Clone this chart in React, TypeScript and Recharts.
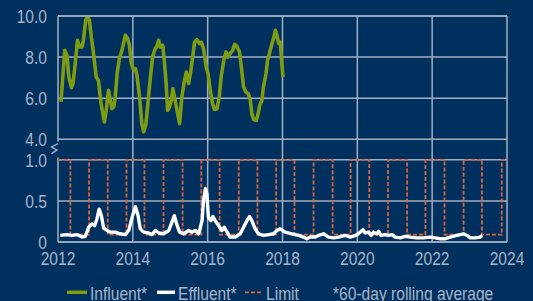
import React from 'react';
import { LineChart, Line, XAxis, YAxis, CartesianGrid, ReferenceDot } from 'recharts';

// ---------- data ----------
const xTicks = [2012, 2014, 2016, 2018, 2020, 2022, 2024];
const influentTicks = [4, 5, 6, 7, 8, 9, 10];
const effluentTicks = [0, 0.25, 0.5, 0.75, 1.0];

const influentYears = [
  2012.08, 2012.18, 2012.24, 2012.29, 2012.36, 2012.40, 2012.46, 2012.52, 2012.58, 2012.64,
  2012.68, 2012.74, 2012.79, 2012.84, 2012.89, 2012.95, 2013.02, 2013.08, 2013.15, 2013.24,
  2013.29, 2013.35, 2013.40, 2013.44, 2013.49, 2013.53, 2013.58, 2013.64, 2013.71, 2013.75,
  2013.80, 2013.86, 2013.91, 2013.96, 2014.02, 2014.07, 2014.11, 2014.18, 2014.24, 2014.29,
  2014.35, 2014.41, 2014.47, 2014.53, 2014.58, 2014.65, 2014.69, 2014.73, 2014.80, 2014.84,
  2014.89, 2014.93, 2014.98, 2015.03, 2015.07, 2015.13, 2015.25, 2015.31, 2015.38, 2015.43,
  2015.49, 2015.54, 2015.60, 2015.65, 2015.71, 2015.78, 2015.83, 2015.89, 2015.96, 2016.01,
  2016.07, 2016.13, 2016.18, 2016.25, 2016.31, 2016.36, 2016.43, 2016.49, 2016.54, 2016.60,
  2016.67, 2016.72, 2016.78, 2016.85, 2016.90, 2016.96, 2017.02, 2017.09, 2017.14, 2017.18,
  2017.23, 2017.30, 2017.34, 2017.39, 2017.45, 2017.49, 2017.56, 2017.60, 2017.65, 2017.72,
  2017.76, 2017.81, 2017.85, 2017.90, 2017.94, 2017.99, 2018.01,
];
const influentValues = [
  5.82, 8.33, 8.09, 7.03, 6.51, 6.71, 7.68, 8.82, 8.49, 8.49,
  8.82, 9.79, 9.98, 9.79, 8.98, 8.17, 7.03, 6.87, 5.74, 4.84,
  5.41, 6.38, 5.90, 5.49, 5.57, 6.06, 7.20, 7.93, 8.33, 8.66,
  9.06, 8.90, 8.57, 7.68, 7.36, 7.44, 7.11, 6.06, 4.76, 4.36,
  4.76, 5.90, 7.03, 8.00, 8.33, 8.57, 8.82, 8.49, 8.57, 7.84,
  6.71, 5.41, 5.57, 5.90, 6.47, 5.90, 4.76, 6.06, 6.87, 7.27,
  6.71, 7.20, 8.00, 8.73, 8.85, 8.66, 8.73, 8.41, 7.52, 7.20,
  6.38, 5.74, 5.45, 5.49, 6.06, 7.03, 7.84, 8.25, 8.00, 8.17,
  8.33, 8.62, 8.53, 8.25, 7.52, 6.55, 6.30, 6.22, 5.90, 5.25,
  4.96, 4.92, 5.17, 5.65, 5.90, 6.55, 7.20, 7.84, 8.17, 8.66,
  8.90, 9.30, 9.06, 8.66, 8.73, 7.52, 7.03,
];

const effluentYears = [
  2012.06, 2012.24, 2012.37, 2012.51, 2012.64, 2012.73, 2012.82, 2012.91, 2012.98, 2013.04,
  2013.10, 2013.16, 2013.22, 2013.31, 2013.40, 2013.53, 2013.66, 2013.80, 2013.89, 2013.98,
  2014.07, 2014.14, 2014.20, 2014.29, 2014.42, 2014.51, 2014.60, 2014.69, 2014.82, 2014.96,
  2015.06, 2015.11, 2015.17, 2015.25, 2015.36, 2015.49, 2015.58, 2015.67, 2015.76, 2015.85,
  2015.89, 2015.94, 2015.98, 2016.02, 2016.09, 2016.14, 2016.20, 2016.29, 2016.38, 2016.44,
  2016.52, 2016.60, 2016.74, 2016.87, 2016.96, 2017.05, 2017.12, 2017.18, 2017.27, 2017.36,
  2017.49, 2017.63, 2017.76, 2017.85, 2017.94, 2018.07, 2018.25, 2018.43, 2018.56, 2018.65,
  2018.74, 2018.88, 2018.96, 2019.10, 2019.23, 2019.37, 2019.50, 2019.68, 2019.81, 2019.95,
  2020.03, 2020.15, 2020.21, 2020.30, 2020.37, 2020.43, 2020.51, 2020.57, 2020.63, 2020.75,
  2020.83, 2020.93, 2021.01, 2021.15, 2021.28, 2021.41, 2021.59, 2021.77, 2021.95, 2022.08,
  2022.22, 2022.35, 2022.48, 2022.66, 2022.84, 2022.93, 2023.02, 2023.15, 2023.28, 2023.34,
];
const effluentValues = [
  0.08, 0.09, 0.08, 0.09, 0.06, 0.07, 0.18, 0.22, 0.20, 0.28,
  0.40, 0.32, 0.17, 0.14, 0.12, 0.12, 0.10, 0.09, 0.14, 0.30,
  0.43, 0.32, 0.16, 0.12, 0.11, 0.09, 0.14, 0.11, 0.10, 0.14,
  0.26, 0.32, 0.22, 0.12, 0.10, 0.14, 0.12, 0.14, 0.10, 0.26,
  0.51, 0.65, 0.59, 0.30, 0.26, 0.31, 0.26, 0.20, 0.14, 0.18,
  0.12, 0.06, 0.06, 0.10, 0.18, 0.26, 0.31, 0.26, 0.16, 0.10,
  0.08, 0.09, 0.10, 0.14, 0.16, 0.12, 0.10, 0.08, 0.06, 0.04,
  0.06, 0.06, 0.08, 0.10, 0.06, 0.05, 0.06, 0.08, 0.06, 0.08,
  0.10, 0.15, 0.11, 0.12, 0.08, 0.12, 0.10, 0.13, 0.08, 0.09,
  0.08, 0.09, 0.06, 0.05, 0.07, 0.06, 0.05, 0.05, 0.06, 0.05,
  0.04, 0.04, 0.06, 0.08, 0.10, 0.08, 0.05, 0.05, 0.06, 0.08,
];

const limitYears = [
  2012.0, 2012.33, 2012.83, 2013.33, 2013.83, 2014.31, 2014.82, 2015.33, 2015.83, 2016.32,
  2016.83, 2017.33, 2017.83, 2018.32, 2018.83, 2019.34, 2019.82, 2020.32, 2020.82, 2021.33,
  2021.82, 2022.33, 2022.84, 2023.33, 2023.86, 2024.0,
];
const limitValues = [
  1.0, 0.09, 1.0, 0.09, 1.0, 0.09, 1.0, 0.09, 1.0, 0.09,
  1.0, 0.09, 1.0, 0.09, 1.0, 0.09, 1.0, 0.09, 1.0, 0.09,
  1.0, 0.09, 1.0, 0.09, 1.0, 1.0,
];

const influentData = influentYears.map((year, i) => ({ year, value: influentValues[i] }));
const effluentData = effluentYears.map((year, i) => ({ year, value: effluentValues[i] }));
const limitData = limitYears.map((year, i) => ({ year, value: limitValues[i] }));

// ---------- style ----------
const W = 533;
const H = 301;
const BG = '#00305e';
const GRID = '#a3aec2';
const TEXT = '#a9b5c9';
const GREEN = '#7f9b12';
const ORANGE = '#d9643e';
const FONT = "'Liberation Sans', Arial, sans-serif";
const FS = 19;
const NARROW = 0.82;
const MARGIN = { top: 16, right: 26, left: 0, bottom: 29 };

const fmtInfluent = (v: number) => (v % 2 === 0 ? v.toFixed(1) : '');
const fmtEffluent = (v: number) => (v === 0 ? '0' : v === 0.5 ? '0.5' : v === 1 ? '1.0' : '');
const fmtYear = (v: number) => String(v);

const makeTick = (fmt: (v: number) => string, anchor: 'end' | 'middle', dy: string) => (props: any) => {
  const { x, y, payload } = props;
  const label = fmt(payload.value);
  if (!label) return <g />;
  return (
    <g transform={`translate(${x},${y})`}>
      <text
        transform={`scale(${NARROW},1)`}
        textAnchor={anchor}
        dy={dy}
        fill={TEXT}
        fontSize={FS}
        fontFamily={FONT}
      >
        {label}
      </text>
    </g>
  );
};

const InfluentTick = makeTick(fmtInfluent, 'end', '0.355em');
const EffluentTick = makeTick(fmtEffluent, 'end', '0.355em');
const YearTick = makeTick(fmtYear, 'middle', '0.71em');

const BreakMark = (props: any) => {
  const { cx, cy } = props;
  if (cx == null || cy == null) return null;
  return (
    <g>
      <rect x={cx - 10} y={cy - 8} width={13} height={16} fill={BG} />
      <path
        d={`M ${cx} ${cy - 6} L ${cx - 6.5} ${cy - 2.5} L ${cx - 1} ${cy + 0.5} L ${cx - 6.5} ${cy + 4}`}
        stroke={GRID}
        strokeWidth={1.4}
        fill="none"
      />
    </g>
  );
};

const legendText: React.CSSProperties = {
  position: 'absolute',
  top: 283.5,
  fontFamily: FONT,
  fontSize: FS,
  lineHeight: `${FS}px`,
  color: TEXT,
  whiteSpace: 'nowrap',
  transform: `scaleX(${NARROW})`,
  transformOrigin: 'left center',
};

export default function App() {
  return (
    <div style={{ position: 'absolute', left: 0, top: 0, width: W, height: H, background: BG, overflow: 'hidden' }}>
      <div style={{ position: 'absolute', left: 0, top: 0 }}>
        <LineChart width={W} height={H} margin={MARGIN}>
          <CartesianGrid stroke={GRID} strokeWidth={1.5} />
          <XAxis
            type="number"
            dataKey="year"
            domain={[2012, 2024]}
            ticks={xTicks}
            allowDataOverflow
            axisLine={false}
            tickLine={false}
            tickSize={0}
            tickMargin={10}
            height={30}
            tick={YearTick}
          />
          <YAxis
            type="number"
            domain={[-1, 10]}
            ticks={influentTicks}
            allowDataOverflow
            width={58}
            axisLine={false}
            tickLine={false}
            tickSize={0}
            tickMargin={11}
            tick={InfluentTick}
          />
          <ReferenceDot x={2012} y={3.5} shape={BreakMark} ifOverflow="visible" />
          <Line
            data={influentData}
            dataKey="value"
            type="linear"
            stroke={GREEN}
            strokeWidth={3.6}
            strokeLinejoin="round"
            dot={false}
            isAnimationActive={false}
          />
        </LineChart>
      </div>
      <div style={{ position: 'absolute', left: 0, top: 0 }}>
        <LineChart width={W} height={H} margin={MARGIN}>
          <CartesianGrid stroke={GRID} strokeWidth={1.5} vertical={false} />
          <XAxis
            type="number"
            dataKey="year"
            domain={[2012, 2024]}
            ticks={xTicks}
            allowDataOverflow
            axisLine={false}
            tickLine={false}
            tick={false}
            height={30}
          />
          <YAxis
            type="number"
            domain={[0, 2.75]}
            ticks={effluentTicks}
            allowDataOverflow
            width={58}
            axisLine={false}
            tickLine={false}
            tickSize={0}
            tickMargin={11}
            tick={EffluentTick}
          />
          <Line
            data={limitData}
            dataKey="value"
            type="stepAfter"
            stroke={ORANGE}
            strokeWidth={1.8}
            strokeDasharray="4 2"
            dot={false}
            isAnimationActive={false}
          />
          <Line
            data={effluentData}
            dataKey="value"
            type="linear"
            stroke="#ffffff"
            strokeWidth={3.4}
            strokeLinejoin="round"
            dot={false}
            isAnimationActive={false}
          />
        </LineChart>
      </div>
      {/* legend */}
      <svg style={{ position: 'absolute', left: 0, top: 286 }} width={W} height={12}>
        <line x1={67} x2={87} y1={6.3} y2={6.3} stroke={GREEN} strokeWidth={3.5} />
        <line x1={157} x2={175} y1={6.3} y2={6.3} stroke="#ffffff" strokeWidth={3.5} />
        <line x1={245} x2={263} y1={6.3} y2={6.3} stroke={ORANGE} strokeWidth={1.8} strokeDasharray="4 2" />
      </svg>
      <div style={{ ...legendText, left: 89.5 }}>Influent*</div>
      <div style={{ ...legendText, left: 178 }}>Effluent*</div>
      <div style={{ ...legendText, left: 266 }}>Limit</div>
      <div style={{ ...legendText, left: 333 }}>*60-day rolling average</div>
    </div>
  );
}
